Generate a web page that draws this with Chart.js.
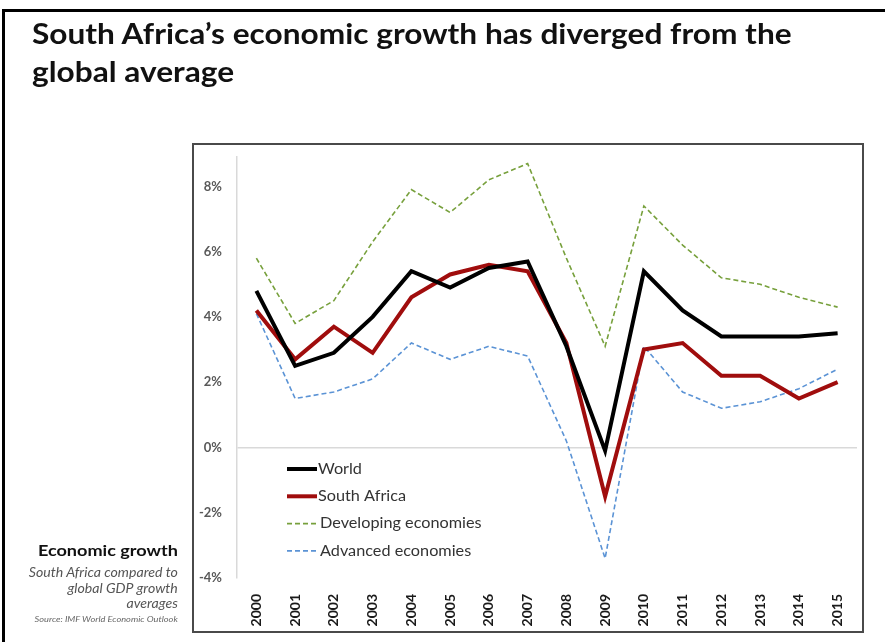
<!DOCTYPE html>
<html>
<head>
<meta charset="utf-8">
<script src="https://cdn.jsdelivr.net/npm/chart.js@4"></script>
<style>
  body { margin: 0; background: #fff; }
  #wrap { position: relative; width: 885px; height: 642px; overflow: hidden; font-family: Lato, "Open Sans", sans-serif; }
  #frame { position: absolute; left: 2px; top: 9px; width: 900px; height: 700px; border-left: 3px solid #000; border-top: 3px solid #000; }
  #box { position: absolute; left: 192px; top: 143px; width: 668px; height: 486px; border: 2px solid #4a4a4a; }
  #chart { position: absolute; left: 0; top: 0; }
  h1 { position: absolute; left: 32px; top: 14px; margin: 0; font-size: 28px; line-height: 38px; font-weight: 700; color: #111;
       white-space: nowrap; transform: scaleX(1.13); transform-origin: left top; }
  .note { position: absolute; right: 707px; text-align: right; white-space: nowrap; transform: scaleX(1.13); transform-origin: right top; }
  #n1 { top: 540px; font-size: 16px; font-weight: 700; color: #111; }
  #n2 { top: 565px; font-size: 12.5px; line-height: 15.5px; font-style: italic; color: #555; }
  #n3 { top: 614px; font-size: 8.2px; font-style: italic; color: #666; }
</style>
</head>
<body>
<div id="wrap">
  <div id="frame"></div>
  <div id="box"></div>
  <canvas id="chart" width="885" height="642"></canvas>
  <h1>South Africa’s economic growth has diverged from the<br>global average</h1>
  <div class="note" id="n1">Economic growth</div>
  <div class="note" id="n2">South Africa compared to<br>global GDP growth<br>averages</div>
  <div class="note" id="n3">Source: IMF World Economic Outlook</div>
</div>
<script>
// datos de la gráfica (crecimiento del PIB, %)
const years = ['2000', '2001', '2002', '2003', '2004', '2005', '2006', '2007',
    '2008', '2009', '2010', '2011', '2012', '2013', '2014', '2015'];
const world = [4.8, 2.5, 2.9, 4.0, 5.4, 4.9, 5.5, 5.7, 3.1, -0.1, 5.4, 4.2, 3.4, 3.4, 3.4, 3.5];
const southAfrica = [4.2, 2.7, 3.7, 2.9, 4.6, 5.3, 5.6, 5.4, 3.2, -1.5, 3.0, 3.2, 2.2, 2.2, 1.5, 2.0];
const developing = [5.8, 3.8, 4.5, 6.3, 7.9, 7.2, 8.2, 8.7, 5.8, 3.1, 7.4, 6.2, 5.2, 5.0, 4.6, 4.3];
const advanced = [4.1, 1.5, 1.7, 2.1, 3.2, 2.7, 3.1, 2.8, 0.2, -3.4, 3.1, 1.7, 1.2, 1.4, 1.8, 2.4];

/**
 * Plugin para dibujar la leyenda dentro del área de la gráfica
 */
const innerLegend = {
    id: 'innerLegend',
    afterDatasetsDraw(chart) {
        const ctx = chart.ctx;
        const x = 287, y0 = 469, gap = 27.3;
        ctx.save();
        ctx.font = '14.5px Lato, "Open Sans", sans-serif';
        ctx.textBaseline = 'middle';
        chart.data.datasets.forEach((ds, i) => {
            const y = y0 + i * gap;
            ctx.beginPath();
            ctx.strokeStyle = ds.borderColor;
            ctx.lineWidth = ds.borderWidth;
            ctx.setLineDash(ds.borderDash || []);
            ctx.moveTo(x, y);
            ctx.lineTo(x + 30, y);
            ctx.stroke();
            ctx.setLineDash([]);
            // texto un poco ensanchado como en la original
            ctx.save();
            ctx.translate(x + (ds.borderDash ? 33 : 31), y);
            ctx.scale(1.12, 1);
            ctx.fillStyle = '#333';
            ctx.fillText(ds.label, 0, 0);
            ctx.restore();
        });
        ctx.restore();
    }
};

const element = document.getElementById('chart').getContext('2d');
const graph = new Chart(element, {
    type: 'line',
    data: {
        labels: years,
        datasets: [{
            label: 'World',
            data: world,
            borderColor: '#000000',
            borderWidth: 4
        }, {
            label: 'South Africa',
            data: southAfrica,
            borderColor: '#a00d0d',
            borderWidth: 4
        }, {
            label: 'Developing economies',
            data: developing,
            borderColor: '#77a03c',
            borderWidth: 1.6,
            borderDash: [5, 3]
        }, {
            label: 'Advanced economies',
            data: advanced,
            borderColor: '#5b93d5',
            borderWidth: 1.6,
            borderDash: [5, 3]
        }]
    },
    options: {
        responsive: false,
        animation: false,
        elements: { point: { radius: 0 }, line: { tension: 0 } },
        layout: { padding: { top: 157, right: 28, left: 0, bottom: 0 } },
        plugins: {
            legend: { display: false },
            tooltip: { enabled: false }
        },
        scales: {
            x: {
                offset: true,
                grid: { display: false },
                border: { display: false },
                ticks: {
                    minRotation: 90,
                    maxRotation: 90,
                    padding: 8,
                    color: '#1a1a1a',
                    font: { family: 'Lato, "Open Sans", sans-serif', size: 14, weight: 'bold' }
                },
                afterFit: (scale) => { scale.height = 64; }
            },
            y: {
                min: -4,
                max: 8.9,
                border: { display: true, color: '#d9d9d9', width: 1.5 },
                grid: {
                    drawTicks: false,
                    color: (c) => c.tick && c.tick.value === 0 ? '#d9d9d9' : 'rgba(0,0,0,0)',
                    lineWidth: 1.5
                },
                ticks: {
                    stepSize: 2,
                    includeBounds: false,
                    padding: 15,
                    color: '#595959',
                    font: { family: 'Lato, "Open Sans", sans-serif', size: 13, weight: 'bold' },
                    callback: (v) => v + '%'
                },
                afterFit: (scale) => { scale.width = 237; }
            }
        }
    },
    plugins: [innerLegend]
});
</script>
</body>
</html>
